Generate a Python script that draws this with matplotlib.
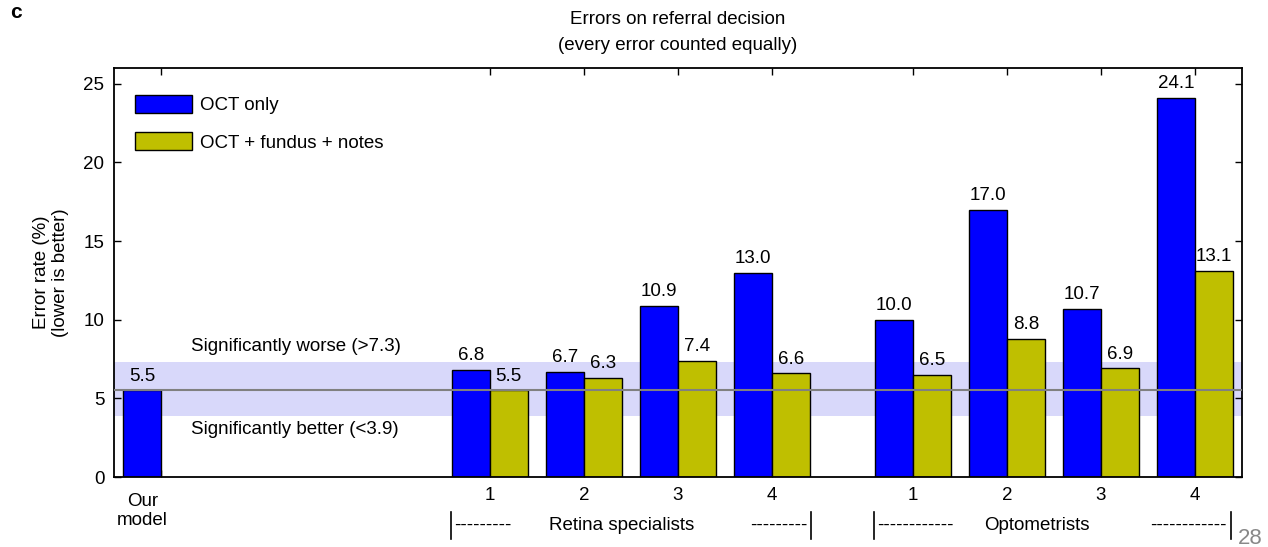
import numpy as np
import matplotlib.pyplot as plt
from matplotlib.lines import Line2D
from matplotlib.transforms import blended_transform_factory

plt.rcParams['font.family'] = ['Liberation Sans', 'DejaVu Sans']

# values
model_rate = 5.5
retina_oct = [6.8, 6.7, 10.9, 13.0]
retina_all = [5.5, 6.3, 7.4, 6.6]
optom_oct = [10.0, 17.0, 10.7, 24.1]
optom_all = [6.5, 8.8, 6.9, 13.1]
reader_labels = ['1', '2', '3', '4']
band_low, band_high = 3.9, 7.3

blue = '#0000ff'
olive = '#bfbf00'
w = 0.4
fs = 13.5

model_x = 1.0
retina_x = np.array([4.5, 5.5, 6.5, 7.5])
optom_x = np.array([9.0, 10.0, 11.0, 12.0])

fig = plt.figure(figsize=(12.68, 5.47), dpi=100)
ax = fig.add_axes([114 / 1268, 1 - 477 / 547, (1242 - 114) / 1268, (477 - 68) / 547])

ax.set_xlim(0.5, 12.5)
ax.set_ylim(0, 26)

# significance band and model reference line
ax.axhspan(band_low, band_high, color='#d8d8fa', zorder=0, lw=0)
ax.axhline(model_rate, color='#808080', lw=1.5, zorder=3)

bars = []
bars.append(ax.bar([model_x - w / 2], [model_rate], w, color=blue, edgecolor='black', lw=1, zorder=2))
b1 = ax.bar(retina_x - w / 2, retina_oct, w, color=blue, edgecolor='black', lw=1, zorder=2, label='OCT only')
b2 = ax.bar(retina_x + w / 2, retina_all, w, color=olive, edgecolor='black', lw=1, zorder=2,
            label='OCT + fundus + notes')
b3 = ax.bar(optom_x - w / 2, optom_oct, w, color=blue, edgecolor='black', lw=1, zorder=2)
b4 = ax.bar(optom_x + w / 2, optom_all, w, color=olive, edgecolor='black', lw=1, zorder=2)
for b in bars + [b1, b2, b3, b4]:
    ax.bar_label(b, fmt='%.1f', padding=4, fontsize=fs, zorder=5)

ax.text(1.32, band_high + 1.0, 'Significantly worse (>7.3)', fontsize=fs, va='center', ha='left')
ax.text(1.32, 3.0, 'Significantly better (<3.9)', fontsize=fs, va='center', ha='left')

# ticks
xt = np.concatenate([[model_x], retina_x, optom_x])
ax.set_xticks(xt)
ax.set_xticklabels([''] + reader_labels + reader_labels, fontsize=fs)
ax.set_yticks([0, 5, 10, 15, 20, 25])
ax.tick_params(axis='both', direction='in', top=True, right=True, length=5, width=1,
               labelsize=fs, pad=7)
for s in ax.spines.values():
    s.set_linewidth(1.3)

ax.text(model_x - w / 2, -1.0, 'Our\nmodel', fontsize=fs, ha='center', va='top', linespacing=1.2)

# group brackets under the reader ticks
trans = blended_transform_factory(ax.transData, fig.transFigure)
gy = 1 - 525 / 547
for x0 in (4.08, 7.92, 8.58, 12.38):
    fig.add_artist(Line2D([x0, x0], [1 - 512 / 547, 1 - 539 / 547], color='black', lw=1.2,
                          transform=trans))
ax.text(4.12, gy, '---------', fontsize=fs, ha='left', va='center', transform=trans)
ax.text(5.9, gy, 'Retina specialists', fontsize=fs, ha='center', va='center', transform=trans)
ax.text(7.88, gy, '---------', fontsize=fs, ha='right', va='center', transform=trans)
ax.text(8.62, gy, '------------', fontsize=fs, ha='left', va='center', transform=trans)
ax.text(10.32, gy, 'Optometrists', fontsize=fs, ha='center', va='center', transform=trans)
ax.text(12.34, gy, '------------', fontsize=fs, ha='right', va='center', transform=trans)

ax.set_ylabel('Error rate (%)\n(lower is better)', fontsize=fs, labelpad=10)

fig.text(678 / 1268, 1 - 19 / 547, 'Errors on referral decision', fontsize=fs, ha='center', va='center')
fig.text(678 / 1268, 1 - 45 / 547, '(every error counted equally)', fontsize=fs, ha='center', va='center')
fig.text(10 / 1268, 1 - 13 / 547, 'c', fontsize=15, fontweight='bold', ha='left', va='center')
fig.text(1250 / 1268, 1 - 538 / 547, '28', fontsize=16, color='#888888', ha='center', va='center')

ax.legend(handles=[b1, b2], loc='upper left', bbox_to_anchor=(0.004, 0.975), frameon=False,
          fontsize=fs, handlelength=3.0, handleheight=1.1, labelspacing=0.95, handletextpad=0.45)

fig.savefig('out.png', dpi=100)
